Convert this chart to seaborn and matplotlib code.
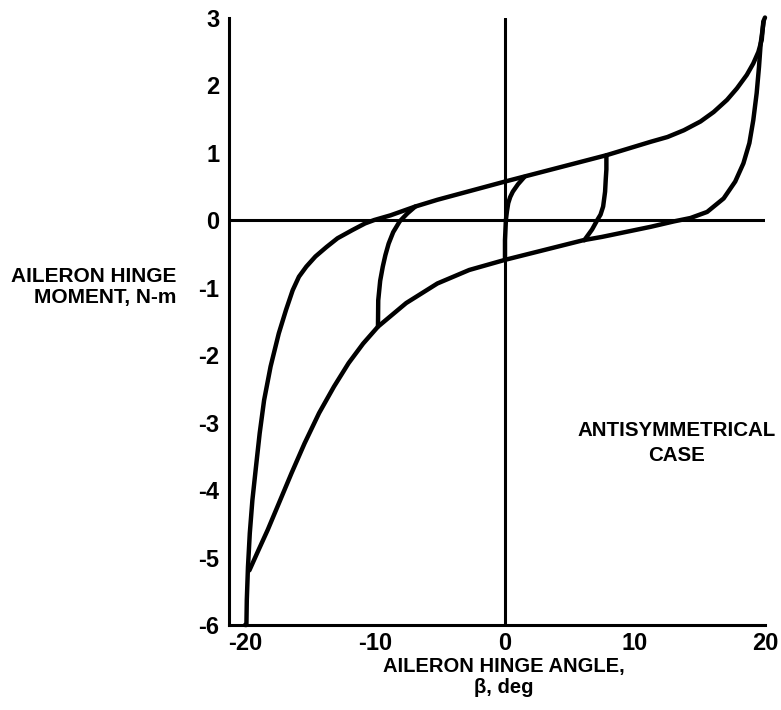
import matplotlib
matplotlib.use("Agg")
import matplotlib.pyplot as plt
import seaborn as sns
import pandas as pd

# outer loop, upper branch (deg, N-m)
upper_beta = [-20.0, -19.89, -19.86, -19.77, -19.63, -19.43, -19.15, -18.87, -18.53,
              -18.03, -17.4, -16.84, -16.33, -15.85, -15.28, -14.58, -13.73, -12.88,
              -11.75, -10.76, -10.06, -8.8, -6.9, -5.2, 0.0, 4.0, 7.8, 11.22, 12.5,
              13.76, 15.04, 16.05, 17.08, 17.84, 18.6, 19.1, 19.49, 19.75, 19.87, 20.0]
upper_moment = [-6.0, -6.0, -5.63, -5.14, -4.64, -4.15, -3.65, -3.16, -2.67,
                -2.17, -1.68, -1.33, -1.04, -0.84, -0.69, -0.54, -0.40, -0.27,
                -0.15, -0.05, 0.0, 0.07, 0.2, 0.3, 0.57, 0.77, 0.96, 1.16, 1.23,
                1.33, 1.46, 1.6, 1.78, 1.95, 2.15, 2.32, 2.49, 2.67, 2.94, 3.0]

# outer loop, lower branch
lower_beta = [19.9, 19.67, 19.54, 19.36, 19.1, 18.8, 18.34, 17.71, 16.82, 15.55,
              14.27, 13.0, 11.22, 7.46, 6.0, 0.0, -2.75, -5.2, -7.6, -9.77, -10.91,
              -12.03, -13.16, -14.3, -15.42, -16.42, -17.4, -18.25, -18.96, -19.66]
lower_moment = [2.94, 2.62, 2.27, 1.88, 1.48, 1.14, 0.84, 0.57, 0.32, 0.12,
                0.03, -0.02, -0.1, -0.25, -0.3, -0.59, -0.74, -0.94, -1.23, -1.58,
                -1.83, -2.12, -2.47, -2.86, -3.31, -3.75, -4.2, -4.59, -4.89, -5.19]

# inner loops
loop1_beta = [-9.77, -9.75, -9.6, -9.4, -9.2, -8.95, -8.6, -8.1, -7.5, -6.9]
loop1_moment = [-1.58, -1.19, -0.9, -0.69, -0.52, -0.35, -0.18, -0.02, 0.1, 0.2]
loop2_beta = [0.0, 0.0, 0.07, 0.15, 0.25, 0.4, 0.6, 1.0, 1.5]
loop2_moment = [-0.59, -0.3, 0.0, 0.13, 0.25, 0.34, 0.42, 0.53, 0.64]
loop3_beta = [7.8, 7.8, 7.75, 7.7, 7.55, 7.35, 7.1, 6.7, 6.1]
loop3_moment = [0.96, 0.75, 0.6, 0.42, 0.2, 0.08, 0.0, -0.14, -0.3]

x_ticks = [-20, -10, 0, 10, 20]
x_labels = ["-20", "-10", "0", "10", "20"]
y_ticks = [-6, -5, -4, -3, -2, -1, 0, 1, 2, 3]
y_labels = ["-6", "-5", "-4", "-3", "-2", "-1", "0", "1", "2", "3"]

branches = {
    "upper": (upper_beta, upper_moment),
    "lower": (lower_beta, lower_moment),
    "loop1": (loop1_beta, loop1_moment),
    "loop2": (loop2_beta, loop2_moment),
    "loop3": (loop3_beta, loop3_moment),
}
rows = []
for name, (bx, by) in branches.items():
    for b, m in zip(bx, by):
        rows.append({"branch": name, "beta": b, "moment": m})
df = pd.DataFrame(rows)

sns.set_theme(style="white")
plt.rcParams["font.family"] = ["Liberation Sans", "DejaVu Sans"]
plt.rcParams["font.weight"] = "bold"
plt.rcParams["text.color"] = "black"

fig = plt.figure(figsize=(7.81, 7.10), dpi=100)
ax = fig.add_axes([0.2932, 0.1197, 0.6863, 0.8556])

ax.axhline(0, color="black", lw=2.2, zorder=1)
ax.axvline(0, color="black", lw=2.2, zorder=1)

sns.lineplot(data=df, x="beta", y="moment", units="branch", estimator=None,
             sort=False, color="black", lw=3.2, ax=ax, clip_on=False, zorder=3)

ax.set_xlim(-21.23, 20)
ax.set_ylim(-6, 3)
ax.set_xticks(x_ticks)
ax.set_xticklabels(x_labels)
ax.set_yticks(y_ticks)
ax.set_yticklabels(y_labels)

for side in ["top", "right"]:
    ax.spines[side].set_visible(False)
for side in ["left", "bottom"]:
    ax.spines[side].set_color("black")
    ax.spines[side].set_linewidth(2.2)

ax.tick_params(axis="y", direction="in", length=10, width=2, pad=7,
               labelsize=17, colors="black")
ax.tick_params(axis="x", direction="in", length=8, width=2, pad=5,
               labelsize=17, colors="black")
ax.set_xlabel("")
ax.set_ylabel("")

fig.text(504 / 781, 1 - 677 / 710, "AILERON HINGE ANGLE,\n\u03b2, deg",
         ha="center", va="center", ma="center", fontsize=14.5, fontweight="bold",
         color="black", linespacing=1.1)
fig.text(176 / 781, 1 - 287 / 710, "AILERON HINGE\nMOMENT, N-m",
         ha="right", va="center", ma="right", fontsize=15, fontweight="bold",
         color="black", linespacing=1.15)
ax.text(0.835, 0.2996, "ANTISYMMETRICAL\nCASE", transform=ax.transAxes,
        ha="center", va="center", ma="center", fontsize=14.8, fontweight="bold",
        color="black", linespacing=1.35)

fig.savefig("out.png", dpi=100, facecolor="white")
